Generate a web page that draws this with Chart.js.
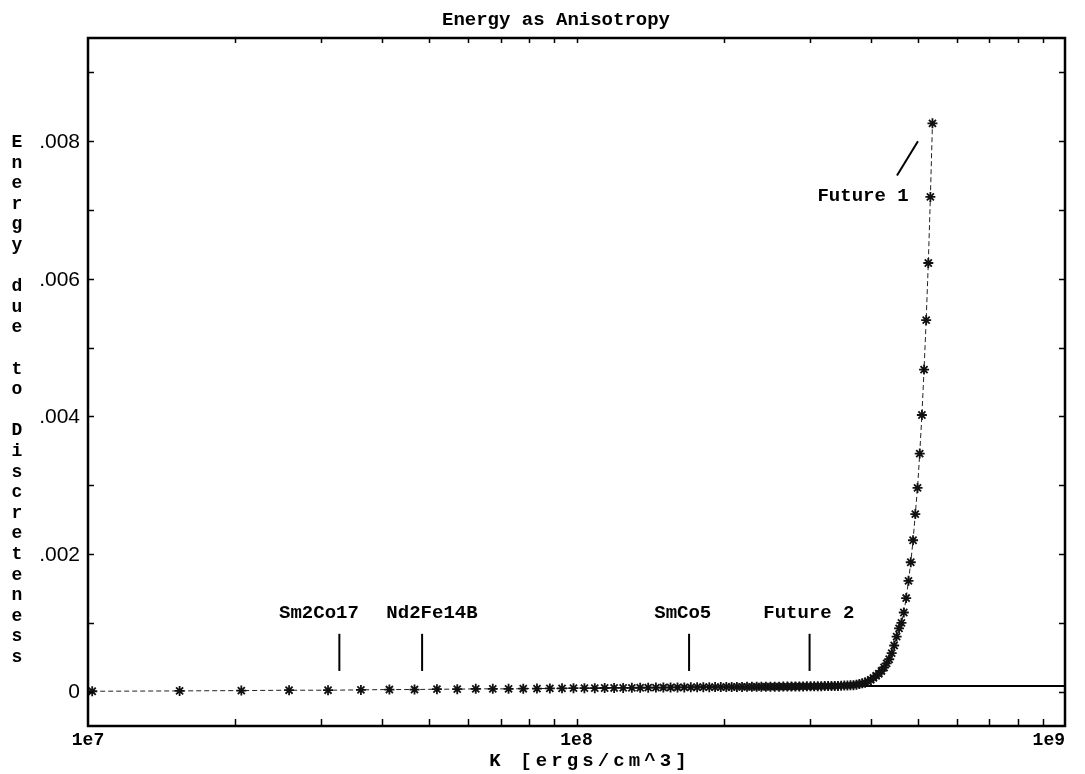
<!DOCTYPE html>
<html>
<head>
<meta charset="utf-8">
<title>Energy as Anisotropy</title>
<script src="https://cdn.jsdelivr.net/npm/chart.js@4.4.1/dist/chart.umd.min.js"></script>
<style>
  html, body { margin: 0; padding: 0; background: #fff; }
  #wrap { width: 1085px; height: 774px; position: relative; }
</style>
</head>
<body>
<div id="wrap"><canvas id="energyChart"></canvas></div>
<script>
// K in units of 1e6 ergs/cm^3
const kMega = [
  10.2, 15.4, 20.6, 25.8, 31.0, 36.2, 41.4, 46.6, 51.8, 57.0,
  62.2, 67.4, 72.6, 77.8, 83.0, 88.2, 93.4, 98.6, 103.8, 109.0,
  114.2, 119.4, 124.6, 129.8, 135.0, 140.2, 145.4, 150.6, 155.8, 161.0,
  166.2, 171.4, 176.6, 181.8, 187.0, 192.2, 197.4, 202.6, 207.8, 213.0,
  218.2, 223.4, 228.6, 233.8, 239.0, 244.2, 249.4, 254.6, 259.8, 265.0,
  270.2, 275.4, 280.6, 285.8, 291.0, 296.2, 301.4, 306.6, 311.8, 317.0,
  322.2, 327.4, 332.6, 337.8, 343.0, 348.2, 353.4, 358.6, 363.8, 369.0,
  374.2, 379.4, 384.6, 389.8, 395.0, 400.2, 405.4, 410.6, 415.8, 421.0,
  426.2, 431.4, 436.6, 441.8, 447.0, 452.2, 457.4, 462.6, 467.8, 473.0,
  478.2, 483.4, 488.6, 493.8, 499.0, 504.2, 509.4, 514.6, 519.8, 525.0,
  530.2, 535.4
];

// energy due to discreteness
const energy = [
  0.000005, 0.00001, 0.000015, 0.00002, 0.00002, 0.000025, 0.00003, 0.00003, 0.000035, 0.000035,
  0.00004, 0.00004, 0.00004, 0.000042, 0.000044, 0.000046, 0.000048, 0.00005, 0.00005, 0.00005,
  0.000052, 0.000053, 0.000054, 0.000055, 0.000056, 0.000057, 0.000058, 0.000059, 0.00006, 0.00006,
  0.000061, 0.000062, 0.000063, 0.000064, 0.000065, 0.000066, 0.000066, 0.000067, 0.000067, 0.000068,
  0.000068, 0.000069, 0.000069, 0.00007, 0.00007, 0.000071, 0.000071, 0.000072, 0.000072, 0.000073,
  0.000073, 0.000074, 0.000074, 0.000075, 0.000075, 0.000076, 0.000076, 0.000077, 0.000078, 0.000079,
  0.00008, 0.00008, 0.000081, 0.000082, 0.000083, 0.000085, 0.000087, 0.000089, 0.000091, 0.000094,
  0.0001, 0.00011, 0.00012, 0.00013, 0.00015, 0.00017, 0.0002, 0.00023, 0.00026, 0.0003,
  0.00035, 0.00041, 0.00047, 0.00056, 0.00067, 0.0008, 0.00092, 0.001, 0.00115, 0.00136,
  0.00161, 0.00188, 0.0022, 0.00258, 0.00296, 0.00346, 0.00402, 0.00468, 0.0054, 0.00623,
  0.00719, 0.00826
];

// flat reference line to the right of the knee
const baseK = [3.8e8, 1e9];
const baseE = [0.00008, 0.00008];

// material markers
const markerNames = ['Sm2Co17', 'Nd2Fe14B', 'SmCo5', 'Future 2'];
const markerK = [3.27e7, 4.83e7, 1.70e8, 3.0e8];
const markerLabelK = [2.97e7, 5.06e7, 1.65e8, 2.99e8];
const markerSpan = [0.0003, 0.00084];
const markerLabelE = 0.00114;

// "Future 1" pointer
const future1Label = 'Future 1';
const future1At = [3.86e8, 0.0072];
const pointerK = [4.53e8, 5.0e8];
const pointerE = [0.0075, 0.008];

const yTickValues = [0, 0.001, 0.002, 0.003, 0.004, 0.005, 0.006, 0.007, 0.008, 0.009];
const yTickLabels = { 0: '0', 0.002: '.002', 0.004: '.004', 0.006: '.006', 0.008: '.008' };
const xDecades = [1e7, 1e8, 1e9];
const xDecadeLabels = ['1e7', '1e8', '1e9'];
const xMinorTicks = [2e7, 3e7, 4e7, 5e7, 6e7, 7e7, 8e7, 9e7, 1e8, 2e8, 3e8, 4e8, 5e8, 6e8, 7e8, 8e8, 9e8];

const chartTitle = 'Energy as Anisotropy';
const xTitle = 'K [ergs/cm^3]';
const yTitle = 'Energy due to Discreteness';

const MONO = '"Liberation Mono", "DejaVu Sans Mono", monospace';
const NARROW = '"Liberation Sans Narrow", "Liberation Sans", sans-serif';

const datasets = [
  {
    data: kMega.map((k, i) => ({ x: k * 1e6, y: energy[i] })),
    showLine: true,
    borderColor: '#222',
    borderWidth: 1,
    borderDash: [5, 3],
    pointStyle: 'star',
    pointRadius: 5,
    pointBorderWidth: 1.8,
    pointBorderColor: '#111',
    pointBackgroundColor: '#111'
  },
  {
    data: baseK.map((k, i) => ({ x: k, y: baseE[i] })),
    showLine: true,
    borderColor: '#000',
    borderWidth: 2,
    pointRadius: 0
  },
  {
    data: pointerK.map((k, i) => ({ x: k, y: pointerE[i] })),
    showLine: true,
    borderColor: '#000',
    borderWidth: 2,
    pointRadius: 0
  }
];
markerK.forEach(k => {
  datasets.push({
    data: markerSpan.map(v => ({ x: k, y: v })),
    showLine: true,
    borderColor: '#000',
    borderWidth: 2,
    pointRadius: 0
  });
});

// frame, inward ticks and all the text
const frameAndText = {
  id: 'frameAndText',
  afterDraw(chart) {
    const { ctx, chartArea: a, scales: { x, y } } = chart;
    ctx.save();
    ctx.strokeStyle = '#000';
    ctx.lineWidth = 2.5;
    ctx.strokeRect(a.left, a.top, a.right - a.left, a.bottom - a.top);

    ctx.lineWidth = 1.5;
    ctx.beginPath();
    yTickValues.forEach(v => {
      const py = Math.round(y.getPixelForValue(v)) + 0.5;
      ctx.moveTo(a.left, py); ctx.lineTo(a.left + 6, py);
      ctx.moveTo(a.right, py); ctx.lineTo(a.right - 6, py);
    });
    xMinorTicks.forEach(v => {
      const px = Math.round(x.getPixelForValue(v)) + 0.5;
      ctx.moveTo(px, a.bottom); ctx.lineTo(px, a.bottom - 7);
      ctx.moveTo(px, a.top); ctx.lineTo(px, a.top + 5);
    });
    ctx.stroke();

    ctx.fillStyle = '#000';

    // y tick labels
    ctx.font = '21px ' + NARROW;
    ctx.textAlign = 'right';
    ctx.textBaseline = 'middle';
    yTickValues.forEach(v => {
      if (yTickLabels[v] !== undefined) ctx.fillText(yTickLabels[v], a.left - 8, y.getPixelForValue(v) + 1);
    });

    // x tick labels
    ctx.font = 'bold 18px ' + MONO;
    ctx.textBaseline = 'alphabetic';
    xDecades.forEach((v, i) => {
      ctx.textAlign = i === xDecades.length - 1 ? 'right' : 'center';
      ctx.fillText(xDecadeLabels[i], x.getPixelForValue(v), a.bottom + 19);
    });

    // chart title
    ctx.font = 'bold 19px ' + MONO;
    ctx.textAlign = 'center';
    ctx.fillText(chartTitle, 556, 25);

    // x title, spread out like the original
    const step = 15.5;
    const startX = 588 - step * (xTitle.length - 1) / 2;
    [...xTitle].forEach((ch, i) => ctx.fillText(ch, startX + i * step, 766));

    // y title, one letter per line
    ctx.font = 'bold 18px ' + MONO;
    [...yTitle].forEach((ch, i) => {
      if (ch !== ' ') ctx.fillText(ch, 17, 147 + i * 20.6);
    });

    // marker labels
    ctx.font = 'bold 19px ' + MONO;
    ctx.textBaseline = 'middle';
    markerNames.forEach((name, i) => {
      ctx.fillText(name, x.getPixelForValue(markerLabelK[i]), y.getPixelForValue(markerLabelE));
    });
    ctx.fillText(future1Label, x.getPixelForValue(future1At[0]), y.getPixelForValue(future1At[1]));
    ctx.restore();
  }
};

new Chart(document.getElementById('energyChart'), {
  type: 'scatter',
  data: { datasets },
  options: {
    responsive: true,
    maintainAspectRatio: false,
    animation: false,
    layout: { padding: { left: 88, top: 38, right: 20, bottom: 48 } },
    plugins: { legend: { display: false }, tooltip: { enabled: false } },
    scales: {
      x: { type: 'logarithmic', min: 1e7, max: 1e9, display: false },
      y: { type: 'linear', min: -0.0005, max: 0.0095, display: false }
    }
  },
  plugins: [frameAndText]
});
</script>
</body>
</html>
